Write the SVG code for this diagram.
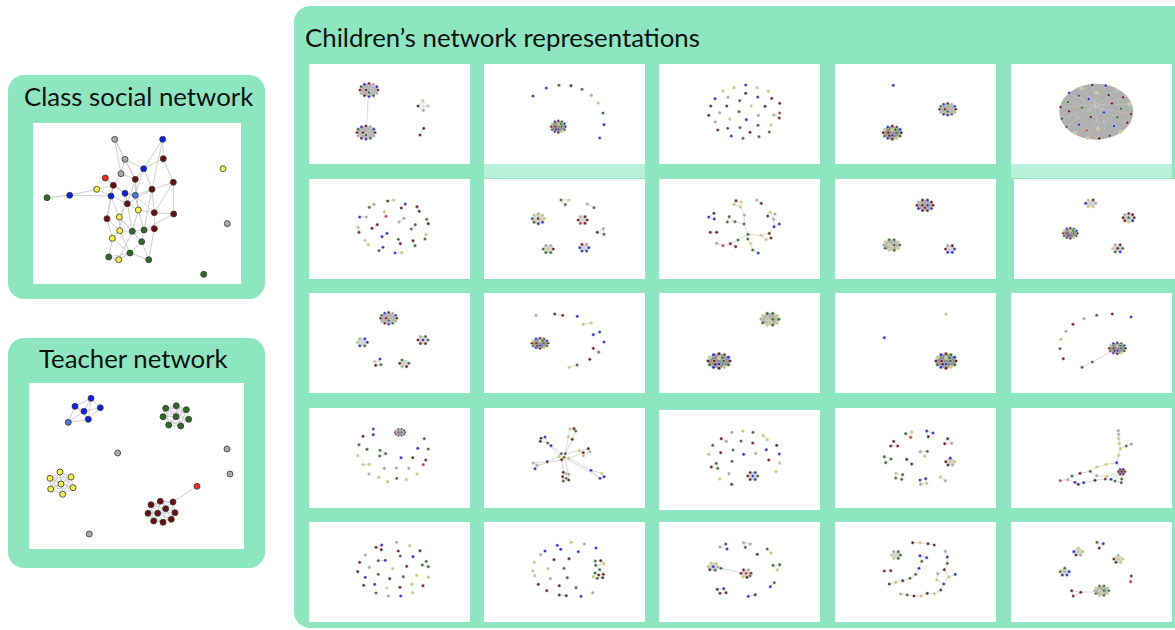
<svg xmlns="http://www.w3.org/2000/svg" xmlns:xlink="http://www.w3.org/1999/xlink" width="1175" height="630" viewBox="0 0 1175 630">
<style>
.bg{fill:#8ee6c1}
.w{fill:#fff}
.hl{fill:#b9f0d9}
.t{font-family:Lato,"Noto Sans",sans-serif;font-size:25.8px;fill:#111}
.c circle{r:1.6px;stroke:#e4e4e4;stroke-width:.5}
.r{fill:#6e2424}.b{fill:#2a36cc}.g{fill:#406c38}.y{fill:#cdc871}.s{fill:#a8a8a8}.e{fill:#cc3d3d}
.ed{stroke:#c8c8c8;stroke-width:.7;fill:none}
.hub{fill:#d2d2d2}
.big circle{r:3px;stroke:#3a3a3a;stroke-width:.8}
.big .r{fill:#6a0f0f}.big .b{fill:#0b1fe6}.big .g{fill:#2f6a27}.big .y{fill:#f5f04a}.big .s{fill:#aaaaaa}.big .e{fill:#ee2a1e}.big .lb{fill:#4b78d6}
.bed{stroke:#c8c8c8;stroke-width:.9;fill:none}
</style>
<defs>
<g id="cm" class="c">
<ellipse rx="9" ry="6.5" fill="#8c8c8c"/>
<circle class="r" cx="9" cy="0"/><circle class="g" cx="7.8" cy="3.3"/><circle class="y" cx="4.5" cy="5.6"/><circle class="r" cx="0" cy="6.5"/><circle class="b" cx="-4.5" cy="5.6"/><circle class="g" cx="-7.8" cy="3.3"/><circle class="r" cx="-9" cy="0"/><circle class="y" cx="-7.8" cy="-3.3"/><circle class="b" cx="-4.5" cy="-5.6"/><circle class="r" cx="0" cy="-6.5"/><circle class="g" cx="4.5" cy="-5.6"/><circle class="b" cx="7.8" cy="-3.3"/>
<circle class="g" cx="4" cy="0"/><circle class="r" cx="-4" cy="0"/><circle class="b" cx="0" cy="2.8"/><circle class="y" cx="0" cy="-2.8"/><circle class="r" cx="-3" cy="3"/><circle class="g" cx="3" cy="-3"/>
</g>
<g id="cmL" class="c">
<ellipse rx="9" ry="6.5" fill="#b4b4b4"/>
<circle class="r" cx="9" cy="0"/><circle class="s" cx="7.8" cy="3.3"/><circle class="g" cx="4.5" cy="5.6"/><circle class="b" cx="0" cy="6.5"/><circle class="r" cx="-4.5" cy="5.6"/><circle class="s" cx="-7.8" cy="3.3"/><circle class="r" cx="-9" cy="0"/><circle class="g" cx="-7.8" cy="-3.3"/><circle class="b" cx="-4.5" cy="-5.6"/><circle class="r" cx="0" cy="-6.5"/><circle class="s" cx="4.5" cy="-5.6"/><circle class="b" cx="7.8" cy="-3.3"/>
<circle class="s" cx="3" cy="0"/><circle class="r" cx="-3" cy="0"/><circle class="g" cx="0" cy="2.5"/>
</g>
<g id="crb" class="c">
<ellipse rx="8" ry="5.5" fill="#a8a8a8"/>
<circle class="r" cx="8" cy="0"/><circle class="b" cx="6.5" cy="3.2"/><circle class="r" cx="2.5" cy="5.2"/><circle class="r" cx="-2.5" cy="5.2"/><circle class="b" cx="-6.5" cy="3.2"/><circle class="r" cx="-8" cy="0"/><circle class="s" cx="-6.5" cy="-3.2"/><circle class="r" cx="-2.5" cy="-5.2"/><circle class="b" cx="2.5" cy="-5.2"/><circle class="r" cx="6.5" cy="-3.2"/>
<circle class="r" cx="-2.5" cy="0"/><circle class="b" cx="2.5" cy="0"/><circle class="r" cx="0" cy="2.5"/>
</g>
<g id="cgy" class="c">
<ellipse rx="8" ry="5.5" fill="#b0b0b0"/>
<circle class="g" cx="8" cy="0"/><circle class="y" cx="6.5" cy="3.2"/><circle class="g" cx="2.5" cy="5.2"/><circle class="y" cx="-2.5" cy="5.2"/><circle class="g" cx="-6.5" cy="3.2"/><circle class="s" cx="-8" cy="0"/><circle class="y" cx="-6.5" cy="-3.2"/><circle class="g" cx="-2.5" cy="-5.2"/><circle class="g" cx="2.5" cy="-5.2"/><circle class="y" cx="6.5" cy="-3.2"/>
<circle class="y" cx="-2.5" cy="0"/><circle class="g" cx="2.5" cy="0"/><circle class="y" cx="0" cy="2.5"/>
</g>
</defs>

<rect class="bg" x="294" y="6" width="910" height="622" rx="16"/>
<rect class="bg" x="8" y="75" width="257" height="224" rx="16"/>
<rect class="bg" x="8" y="338" width="257" height="230" rx="16"/>
<rect class="hl" x="484" y="164" width="161" height="14"/>
<rect class="hl" x="1011" y="164" width="161" height="14"/>

<text class="t" x="305" y="46.5">Children’s network representations</text>
<text class="t" x="24" y="106">Class social network</text>
<text class="t" x="39" y="368">Teacher network</text>

<g id="class-network" class="big">
<rect class="w" x="33" y="123" width="208" height="161"/>
<path class="bed" d="M114.7 139.3L125 159.3M114.7 139.3L121 173.7M114.7 139.3L135.3 179.3M162.7 139.3L143.7 168.7M162.7 139.3L163.3 158.7M162.7 139.3L152 189.3M125 159.3L143.7 168.7M125 159.3L135.3 179.3M125 159.3L121 173.7M163.3 158.7L173.3 182.3M163.3 158.7L143.7 168.7M143.7 168.7L135.3 179.3M143.7 168.7L152 189.3M121 173.7L113.3 185.3M121 173.7L135.3 179.3M105.3 178L113.3 185.3M105.3 178L125 193.3M135.3 179.3L135.3 195.3M135.3 179.3L127.3 203.7M173.3 182.3L173.7 214M173.3 182.3L152 189.3M96.7 189.3L69.7 195.3M69.7 195.3L47 197.7M96.7 189.3L111 196M69.7 195.3L111 196M113.3 185.3L125 193.3M113.3 185.3L111 196M152 189.3L154.3 212.7M152 189.3L127.3 203.7M125 193.3L135.3 195.3M125 193.3L127.3 203.7M135.3 195.3L138.3 210M135.3 195.3L152 189.3M111 196L107 218.7M111 196L119.3 217M127.3 203.7L138.3 210M127.3 203.7L119.3 217M138.3 210L154.3 212.7M138.3 210L144 230M154.3 212.7L173.7 214M154.3 212.7L154.3 228.7M173.7 214L144 230M119.3 217L119.7 230.7M119.3 217L132.3 231.3M107 218.7L119.7 230.7M107 218.7L112.3 238.3M119.7 230.7L132.3 231.3M119.7 230.7L112.3 238.3M132.3 231.3L144 230M132.3 231.3L141.7 241.7M144 230L154.3 228.7M144 230L141.7 241.7M154.3 228.7L148.7 259.7M112.3 238.3L108.7 257M112.3 238.3L130 253M141.7 241.7L130 253M141.7 241.7L148.7 259.7M108.7 257L130 253M108.7 257L118.7 259.7M130 253L118.7 259.7M130 253L148.7 259.7M119.7 230.7L130 253M132.3 231.3L118.7 259.7M125 193.3L119.7 230.7M135.3 179.3L138.3 210M113.3 185.3L107 218.7M111 196L127.3 203.7M119.3 217L141.7 241.7M138.3 210L132.3 231.3M152 189.3L144 230M135.3 195.3L154.3 212.7M127.3 203.7L132.3 231.3M96.7 189.3L113.3 185.3M173.3 182.3L154.3 212.7M143.7 168.7L135.3 195.3"/>
<circle class="s" cx="114.7" cy="139.3"/><circle class="b" cx="162.7" cy="139.3"/><circle class="s" cx="125" cy="159.3"/><circle class="r" cx="163.3" cy="158.7"/><circle class="b" cx="143.7" cy="168.7"/><circle class="y" cx="223" cy="168.7"/><circle class="s" cx="121" cy="173.7"/><circle class="e" cx="105.3" cy="178"/><circle class="r" cx="135.3" cy="179.3"/><circle class="r" cx="173.3" cy="182.3"/><circle class="r" cx="113.3" cy="185.3"/><circle class="y" cx="96.7" cy="189.3"/><circle class="r" cx="152" cy="189.3"/><circle class="b" cx="125" cy="193.3"/><circle class="lb" cx="135.3" cy="195.3"/><circle class="b" cx="111" cy="196"/><circle class="b" cx="69.7" cy="195.3"/><circle class="g" cx="47" cy="197.7"/><circle class="r" cx="127.3" cy="203.7"/><circle class="y" cx="138.3" cy="210"/><circle class="r" cx="154.3" cy="212.7"/><circle class="r" cx="173.7" cy="214"/><circle class="y" cx="119.3" cy="217"/><circle class="r" cx="107" cy="218.7"/><circle class="s" cx="227.3" cy="223.7"/><circle class="y" cx="119.7" cy="230.7"/><circle class="g" cx="132.3" cy="231.3"/><circle class="g" cx="144" cy="230"/><circle class="r" cx="154.3" cy="228.7"/><circle class="y" cx="112.3" cy="238.3"/><circle class="g" cx="141.7" cy="241.7"/><circle class="g" cx="108.7" cy="257"/><circle class="g" cx="130" cy="253"/><circle class="y" cx="118.7" cy="259.7"/><circle class="g" cx="148.7" cy="259.7"/><circle class="g" cx="203.7" cy="274.3"/>
</g>

<g id="teacher-network" class="big">
<rect class="w" x="29" y="383" width="215" height="166"/>
<path class="bed" d="M91 398.3L75 406.3M91 398.3L100.3 407.7M91 398.3L84 411.3M75 406.3L84 411.3M75 406.3L68.3 422.3M100.3 407.7L84 411.3M100.3 407.7L88.3 419.3M84 411.3L88.3 419.3M88.3 419.3L68.3 422.3M75 406.3L88.3 419.3M84 411.3L68.3 422.3M91 398.3L88.3 419.3"/>
<path class="bed" stroke-width=".6" d="M176.3 405.7L186.3 409.7L188.7 419.3L180.7 426L168.7 425L163 416.7L165.7 408.3ZM176.3 405.7L188.7 419.3L168.7 425L165.7 408.3L186.3 409.7L180.7 426L163 416.7ZM176 416.7L176.3 405.7M176 416.7L186.3 409.7M176 416.7L188.7 419.3M176 416.7L180.7 426M176 416.7L168.7 425M176 416.7L163 416.7M176 416.7L165.7 408.3M176.3 405.7L180.7 426M165.7 408.3L188.7 419.3M186.3 409.7L168.7 425M163 416.7L186.3 409.7"/>
<path class="bed" stroke-width=".6" d="M60 472L71 477L73 487.7L62.7 494.3L50.7 489L50 478.3ZM60 472L73 487.7L50.7 489ZM71 477L62.7 494.3L50 478.3ZM61 484L60 472M61 484L71 477M61 484L73 487.7M61 484L62.7 494.3M61 484L50.7 489M61 484L50 478.3M60 472L62.7 494.3M50 478.3L73 487.7M71 477L50.7 489"/>
<path class="bed" stroke-width=".6" d="M197 486.3L173 502M160.3 501.3L173 502L175 512.7L171.3 519.3L163 522.3L153.7 521L148 513.3L151 504.7ZM160.3 501.3L175 512.7L163 522.3L148 513.3ZM173 502L171.3 519.3L153.7 521L151 504.7ZM165.7 508.7L160.3 501.3M165.7 508.7L173 502M165.7 508.7L175 512.7M165.7 508.7L171.3 519.3M165.7 508.7L163 522.3M165.7 508.7L153.7 521M165.7 508.7L148 513.3M165.7 508.7L151 504.7M157.7 513.3L160.3 501.3M157.7 513.3L173 502M157.7 513.3L175 512.7M157.7 513.3L171.3 519.3M157.7 513.3L163 522.3M157.7 513.3L153.7 521M157.7 513.3L148 513.3M157.7 513.3L151 504.7"/>
<circle class="b" cx="91" cy="398.3"/><circle class="b" cx="75" cy="406.3"/><circle class="b" cx="100.3" cy="407.7"/><circle class="b" cx="84" cy="411.3"/><circle class="b" cx="88.3" cy="419.3"/><circle class="lb" cx="68.3" cy="422.3"/>
<circle class="g" cx="176.3" cy="405.7"/><circle class="g" cx="165.7" cy="408.3"/><circle class="g" cx="186.3" cy="409.7"/><circle class="g" cx="163" cy="416.7"/><circle class="g" cx="176" cy="416.7"/><circle class="g" cx="188.7" cy="419.3"/><circle class="g" cx="168.7" cy="425"/><circle class="g" cx="180.7" cy="426"/>
<circle class="s" cx="117.7" cy="453"/><circle class="s" cx="227" cy="449"/><circle class="s" cx="230" cy="474"/><circle class="s" cx="89.3" cy="534"/>
<circle class="y" cx="60" cy="472"/><circle class="y" cx="50" cy="478.3"/><circle class="y" cx="71" cy="477"/><circle class="y" cx="61" cy="484"/><circle class="y" cx="50.7" cy="489"/><circle class="y" cx="73" cy="487.7"/><circle class="y" cx="62.7" cy="494.3"/>
<circle class="e" cx="197" cy="486.3"/>
<circle class="r" cx="160.3" cy="501.3"/><circle class="r" cx="151" cy="504.7"/><circle class="r" cx="173" cy="502"/><circle class="r" cx="165.7" cy="508.7"/><circle class="r" cx="148" cy="513.3"/><circle class="r" cx="157.7" cy="513.3"/><circle class="r" cx="175" cy="512.7"/><circle class="r" cx="153.7" cy="521"/><circle class="r" cx="163" cy="522.3"/><circle class="r" cx="171.3" cy="519.3"/>
</g>

<g id="p11" class="c" transform="translate(309,64)">
<rect class="w" width="161" height="100"/>
<path class="ed" d="M59.3 33L57.7 62M113.7 36.7L109 42L114.3 46.3L119 42ZM113.7 36.7L114.3 46.3M109 42L119 42M114.7 64.3L111 71"/>
<use href="#cmL" x="60" y="26"/>
<use href="#cmL" x="57" y="68.5"/>
<circle class="y" cx="113.7" cy="36.7"/><circle class="r" cx="109" cy="42"/><circle class="y" cx="119" cy="42"/><circle class="s" cx="114.3" cy="46.3"/>
<circle class="r" cx="114.7" cy="64.3"/><circle class="r" cx="111" cy="71"/>
</g>

<g id="p12" class="c" transform="translate(484,64)">
<rect class="w" width="161" height="100"/>
<circle class="b" cx="49" cy="32"/><circle class="b" cx="62.3" cy="24"/><circle class="g" cx="75" cy="21.3"/><circle class="r" cx="87" cy="21.7"/><circle class="g" cx="98" cy="25.3"/><circle class="s" cx="107.3" cy="31.3"/><circle class="y" cx="114.3" cy="39"/><circle class="g" cx="119" cy="49"/><circle class="b" cx="120" cy="60.7"/><circle class="b" cx="115.7" cy="74"/>
<use href="#cm" transform="translate(74.3,62.7) scale(.8,.9)"/>
</g>

<g id="p13" class="c" transform="translate(659,64)">
<rect class="w" width="161" height="100"/>
<path class="ed" d="M114.7 51L120.7 49M114.7 51L120.3 54"/>
<circle class="b" cx="86.7" cy="21"/><circle class="y" cx="75" cy="23.7"/><circle class="y" cx="98.3" cy="23.7"/><circle class="y" cx="64" cy="27"/><circle class="y" cx="109.3" cy="27.3"/><circle class="r" cx="86.7" cy="29.3"/><circle class="b" cx="56" cy="34.7"/><circle class="s" cx="69" cy="33.3"/><circle class="b" cx="98.7" cy="33"/><circle class="r" cx="112.7" cy="34.3"/><circle class="g" cx="80.7" cy="36.7"/><circle class="r" cx="120.7" cy="39.3"/><circle class="r" cx="51.7" cy="42"/><circle class="r" cx="67.7" cy="42"/><circle class="y" cx="92.3" cy="42"/><circle class="r" cx="106" cy="42.3"/><circle class="s" cx="60.7" cy="48.7"/><circle class="g" cx="80" cy="47.7"/><circle class="r" cx="49.7" cy="51.3"/><circle class="y" cx="70.7" cy="55"/><circle class="b" cx="87.3" cy="55.7"/><circle class="s" cx="99.3" cy="51.3"/><circle class="s" cx="114.7" cy="51"/><circle class="e" cx="120.7" cy="49"/><circle class="r" cx="120.3" cy="54"/><circle class="s" cx="56.3" cy="58"/><circle class="y" cx="112" cy="61"/><circle class="g" cx="68.7" cy="64.3"/><circle class="g" cx="81" cy="63.7"/><circle class="g" cx="99" cy="61.3"/><circle class="r" cx="58.7" cy="66"/><circle class="r" cx="91" cy="68.3"/><circle class="g" cx="110.3" cy="68"/><circle class="b" cx="72.3" cy="72"/><circle class="g" cx="84" cy="74.3"/><circle class="g" cx="100" cy="72.7"/>
</g>

<g id="p14" class="c" transform="translate(835,64)">
<rect class="w" width="161" height="100"/>
<circle class="b" cx="58.3" cy="21.3"/>
<use href="#cmL" transform="translate(112.7,45.3) scale(.9)"/>
<use href="#cm" transform="translate(57.3,68.7)"/>
</g>

<g id="p15" class="c" transform="translate(1011,64)">
<rect class="w" width="161" height="100"/>
<ellipse cx="85.3" cy="47.7" rx="37" ry="28" fill="#b0b0b0"/>
<path d="M81.3 21L88.3 74.3M94.7 21.7L64.3 69.3M70.7 24L109.7 68M105 26.7L55.7 62.7M58.3 29L116.3 58.7M112 33.3L51 54.7M57 38L120 50M118.7 40L49.7 43M97.7 31L76.7 74.3M67.7 31.7L98.7 71.7" stroke="#c6c6c6" stroke-width=".5" fill="none"/>
<circle class="r" cx="81.3" cy="21"/><circle class="b" cx="94.7" cy="21.7"/><circle class="y" cx="70.7" cy="24"/><circle class="s" cx="105" cy="26.7"/><circle class="b" cx="58.3" cy="29"/><circle class="y" cx="85.7" cy="28.7"/><circle class="g" cx="67.7" cy="31.7"/><circle class="r" cx="97.7" cy="31"/><circle class="r" cx="112" cy="33.3"/><circle class="b" cx="77.7" cy="35"/><circle class="g" cx="57" cy="38"/><circle class="r" cx="101" cy="39.3"/><circle class="s" cx="86.3" cy="41"/><circle class="y" cx="118.7" cy="40"/><circle class="r" cx="49.7" cy="43"/><circle class="g" cx="71" cy="43.7"/><circle class="g" cx="110" cy="44.7"/><circle class="r" cx="58" cy="47.3"/><circle class="b" cx="93" cy="48.3"/><circle class="r" cx="120" cy="50"/><circle class="s" cx="66.7" cy="53.3"/><circle class="r" cx="79.7" cy="53"/><circle class="g" cx="106.3" cy="53.3"/><circle class="g" cx="51" cy="54.7"/><circle class="s" cx="93.7" cy="57.7"/><circle class="r" cx="116.3" cy="58.7"/><circle class="b" cx="68" cy="60.7"/><circle class="g" cx="55.7" cy="62.7"/><circle class="b" cx="103" cy="62"/><circle class="e" cx="75.7" cy="66.3"/><circle class="y" cx="87" cy="65"/><circle class="y" cx="109.7" cy="68"/><circle class="y" cx="64.3" cy="69.3"/><circle class="g" cx="98.7" cy="71.7"/><circle class="y" cx="76.7" cy="74.3"/><circle class="r" cx="88.3" cy="74.3"/>
</g>

<g id="p21" class="c" transform="translate(309,179)">
<rect class="w" width="161" height="100"/>
<path class="ed" d="M60.3 28.3L65 25.3M78.7 22L84.7 21M96.3 25L92.3 29M50.7 38L57.3 38M75.3 32.7L77 37.3M108 27.7L110.3 32.3M90 43L95 39.3M117.7 40.3L119.3 44.7M49 48.3L50 53.3M63 49.3L68.3 45.7M102.3 50L106.3 45.7M73 57.7L78 54.3M56 61.3L59.3 65.7M89.3 60.3L91.3 64.7M117 55.3L116 60M104 61.7L106 66.7M70 71.7L74 68.3M86 74L92.7 73.7"/>
<circle class="g" cx="60.3" cy="28.3"/><circle class="s" cx="65" cy="25.3"/><circle class="r" cx="78.7" cy="22"/><circle class="y" cx="84.7" cy="21"/><circle class="b" cx="96.3" cy="25"/><circle class="r" cx="92.3" cy="29"/><circle class="b" cx="50.7" cy="38"/><circle class="s" cx="57.3" cy="38"/><circle class="y" cx="75.3" cy="32.7"/><circle class="e" cx="77" cy="37.3"/><circle class="r" cx="108" cy="27.7"/><circle class="r" cx="110.3" cy="32.3"/><circle class="s" cx="90" cy="43"/><circle class="s" cx="95" cy="39.3"/><circle class="g" cx="117.7" cy="40.3"/><circle class="r" cx="119.3" cy="44.7"/><circle class="y" cx="49" cy="48.3"/><circle class="r" cx="50" cy="53.3"/><circle class="r" cx="63" cy="49.3"/><circle class="r" cx="68.3" cy="45.7"/><circle class="g" cx="102.3" cy="50"/><circle class="g" cx="106.3" cy="45.7"/><circle class="b" cx="73" cy="57.7"/><circle class="b" cx="78" cy="54.3"/><circle class="y" cx="56" cy="61.3"/><circle class="y" cx="59.3" cy="65.7"/><circle class="g" cx="89.3" cy="60.3"/><circle class="r" cx="91.3" cy="64.7"/><circle class="y" cx="117" cy="55.3"/><circle class="g" cx="116" cy="60"/><circle class="r" cx="104" cy="61.7"/><circle class="g" cx="106" cy="66.7"/><circle class="g" cx="70" cy="71.7"/><circle class="b" cx="74" cy="68.3"/><circle class="b" cx="86" cy="74"/><circle class="y" cx="92.7" cy="73.7"/>
</g>

<g id="p22" class="c" transform="translate(484,179)">
<rect class="w" width="161" height="100"/>
<path class="ed" d="M77 21L84.7 21L81.3 25.7ZM103.3 25L110 28.7M113.3 53.3L119.3 49.7L120 55.3Z"/>
<g transform="translate(54.3,39.7)"><ellipse class="hub" rx="6" ry="5"/><circle class="y" cx="6" cy="0"/><circle class="b" cx="4.2" cy="3.5"/><circle class="b" cx="0" cy="5"/><circle class="g" cx="-4.2" cy="3.5"/><circle class="g" cx="-6" cy="0"/><circle class="y" cx="-4.2" cy="-3.5"/><circle class="s" cx="0" cy="-5"/><circle class="y" cx="4.2" cy="-3.5"/><circle class="r" cx="0" cy="0"/><circle class="y" cx="2" cy="1.5"/></g>
<g transform="translate(98.7,41)"><ellipse class="hub" rx="4.5" ry="3.5"/><circle class="r" cx="4.5" cy="0"/><circle class="r" cx="2.3" cy="3.3"/><circle class="e" cx="-2.3" cy="3.3"/><circle class="r" cx="-4.5" cy="0"/><circle class="s" cx="-2.3" cy="-3.3"/><circle class="r" cx="2.3" cy="-3.3"/></g>
<g transform="translate(64.3,70)"><ellipse class="hub" rx="5" ry="4"/><circle class="r" cx="5" cy="0"/><circle class="g" cx="2.5" cy="3.5"/><circle class="g" cx="-2.5" cy="3.5"/><circle class="g" cx="-5" cy="0"/><circle class="s" cx="-2.5" cy="-3.5"/><circle class="s" cx="2.5" cy="-3.5"/><circle class="y" cx="0" cy="0"/></g>
<g transform="translate(100.3,68.7)"><ellipse class="hub" rx="4.5" ry="3.5"/><circle class="b" cx="4.5" cy="0"/><circle class="b" cx="2.3" cy="3.3"/><circle class="b" cx="-2.3" cy="3.3"/><circle class="b" cx="-4.5" cy="0"/><circle class="r" cx="-2.3" cy="-3.3"/><circle class="s" cx="2.3" cy="-3.3"/></g>
<circle class="g" cx="77" cy="21"/><circle class="y" cx="84.7" cy="21"/><circle class="g" cx="81.3" cy="25.7"/><circle class="s" cx="103.3" cy="25"/><circle class="g" cx="110" cy="28.7"/><circle class="r" cx="113.3" cy="53.3"/><circle class="s" cx="119.3" cy="49.7"/><circle class="g" cx="120" cy="55.3"/>
</g>

<g id="p23" class="c" transform="translate(659,179)">
<rect class="w" width="161" height="100"/>
<path class="ed" d="M89 55.3L85 45L85.3 36L81.3 28M89 55.3L79 61L71.3 64.7L64 66.7L57.7 64.3M71.3 64.7L76.7 67.7M89 55.3L102 56.3L110.3 54.3L115 47.7L114.7 40.3L111 33.3L116 35L114.7 40.3L108.7 37M115 47.7L120.3 45M102 56.3L107 60.7L112 59L110.3 54.3M89 55.3L88.7 60L91.7 64.3L93.7 71L99.3 74M70.3 37.7L68.3 43L76 42.7ZM76 42.7L85 45M77 21.7L82.3 23L81.3 28L75 25.3ZM77 21.7L81.3 28M97.7 21L102.3 24.3M55 34.3L49.7 38L55.3 40ZM51.3 53.3L57.7 53.3"/>
<circle class="r" cx="77" cy="21.7"/><circle class="y" cx="82.3" cy="23"/><circle class="y" cx="75" cy="25.3"/><circle class="y" cx="81.3" cy="28"/><circle class="s" cx="97.7" cy="21"/><circle class="r" cx="102.3" cy="24.3"/><circle class="r" cx="55" cy="34.3"/><circle class="b" cx="49.7" cy="38"/><circle class="b" cx="55.3" cy="40"/><circle class="s" cx="85.3" cy="36"/><circle class="g" cx="70.3" cy="37.7"/><circle class="g" cx="68.3" cy="43"/><circle class="g" cx="76" cy="42.7"/><circle class="g" cx="85" cy="45"/><circle class="y" cx="111" cy="33.3"/><circle class="s" cx="116" cy="35"/><circle class="r" cx="108.7" cy="37"/><circle class="s" cx="114.7" cy="40.3"/><circle class="b" cx="120.3" cy="45"/><circle class="b" cx="115" cy="47.7"/><circle class="r" cx="51.3" cy="53.3"/><circle class="r" cx="57.7" cy="53.3"/><circle class="g" cx="89" cy="55.3"/><circle class="y" cx="102" cy="56.3"/><circle class="r" cx="110.3" cy="54.3"/><circle class="y" cx="107" cy="60.7"/><circle class="r" cx="112" cy="59"/><circle class="g" cx="79" cy="61"/><circle class="s" cx="57.7" cy="64.3"/><circle class="e" cx="64" cy="66.7"/><circle class="r" cx="71.3" cy="64.7"/><circle class="r" cx="76.7" cy="67.7"/><circle class="g" cx="88.7" cy="60"/><circle class="y" cx="91.7" cy="64.3"/><circle class="g" cx="93.7" cy="71"/><circle class="b" cx="99.3" cy="74"/>
</g>

<g id="p24" class="c" transform="translate(835,179)">
<rect class="w" width="161" height="100"/>
<use href="#crb" x="90" y="26.3"/>
<use href="#cgy" x="56.7" y="66"/>
<g transform="translate(115,70)"><ellipse class="hub" rx="4.5" ry="3.5"/><circle class="b" cx="4.5" cy="0"/><circle class="b" cx="2.3" cy="3.3"/><circle class="b" cx="-2.3" cy="3.3"/><circle class="r" cx="-4.5" cy="0"/><circle class="s" cx="-2.3" cy="-3.3"/><circle class="r" cx="2.3" cy="-3.3"/></g>
</g>

<g id="p25" class="c" transform="translate(1014,179)">
<rect class="w" width="161" height="100"/>
<g transform="translate(76.7,24.3)"><ellipse class="hub" rx="5" ry="3.5"/><circle class="s" cx="5" cy="0"/><circle class="y" cx="2.5" cy="3.3"/><circle class="y" cx="-2.5" cy="3.3"/><circle class="b" cx="-5" cy="0"/><circle class="y" cx="-2.5" cy="-3.3"/><circle class="r" cx="2.5" cy="-3.3"/></g>
<g transform="translate(114.7,38.7)"><ellipse class="hub" rx="5.5" ry="4.2"/><circle class="r" cx="5.5" cy="0"/><circle class="b" cx="3.9" cy="3"/><circle class="y" cx="0" cy="4.2"/><circle class="r" cx="-3.9" cy="3"/><circle class="r" cx="-5.5" cy="0"/><circle class="s" cx="-3.9" cy="-3"/><circle class="r" cx="0" cy="-4.2"/><circle class="r" cx="3.9" cy="-3"/><circle class="g" cx="0" cy="0"/></g>
<use href="#cm" transform="translate(56.3,54.3) scale(.8)"/>
<g transform="translate(103.7,69.3)"><ellipse class="hub" rx="5" ry="4"/><circle class="g" cx="5" cy="0"/><circle class="b" cx="2.5" cy="3.5"/><circle class="g" cx="-2.5" cy="3.5"/><circle class="y" cx="-5" cy="0"/><circle class="s" cx="-2.5" cy="-3.5"/><circle class="r" cx="2.5" cy="-3.5"/><circle class="r" cx="0" cy="0"/></g>
</g>

<g id="p31" class="c" transform="translate(309,293)">
<rect class="w" width="161" height="100"/>
<use href="#cmL" transform="translate(79.7,25.3) scale(.9)"/>
<g transform="translate(53.3,49.3)"><ellipse class="hub" rx="5" ry="4"/><circle class="b" cx="5" cy="0"/><circle class="g" cx="2.5" cy="3.5"/><circle class="b" cx="-2.5" cy="3.5"/><circle class="y" cx="-5" cy="0"/><circle class="s" cx="-2.5" cy="-3.5"/><circle class="b" cx="2.5" cy="-3.5"/></g>
<g transform="translate(114,47)"><ellipse class="hub" rx="5" ry="4"/><circle class="g" cx="5" cy="0"/><circle class="r" cx="2.5" cy="3.5"/><circle class="r" cx="-2.5" cy="3.5"/><circle class="r" cx="-5" cy="0"/><circle class="s" cx="-2.5" cy="-3.5"/><circle class="g" cx="2.5" cy="-3.5"/><circle class="b" cx="0" cy="0"/></g>
<path class="ed" d="M66.7 69L70 67.5L71.5 71.7L67.5 72Z"/>
<circle class="y" cx="65.5" cy="68.5"/><circle class="b" cx="71" cy="66"/><circle class="g" cx="72" cy="71.7"/><circle class="r" cx="66.7" cy="72.3"/>
<g transform="translate(95.3,70.3)"><ellipse class="hub" rx="4.5" ry="3.5"/><circle class="g" cx="4.5" cy="0"/><circle class="r" cx="2.3" cy="3.3"/><circle class="s" cx="-2.3" cy="3.3"/><circle class="r" cx="-4.5" cy="0"/><circle class="g" cx="-2.3" cy="-3.3"/></g>
</g>

<g id="p32" class="c" transform="translate(484,293)">
<rect class="w" width="161" height="100"/>
<path class="ed" d="M70.7 21L78.7 22.3M99.3 31.3L107.3 30M109.3 41.7L115.7 39M109.3 55.3L114.7 59M85.3 74.3L93 72"/>
<use href="#cm" transform="translate(56,50.3) scale(.9,.8)"/>
<circle class="s" cx="52" cy="22.3"/><circle class="r" cx="70.7" cy="21"/><circle class="r" cx="78.7" cy="22.3"/><circle class="b" cx="93.3" cy="23.3"/><circle class="y" cx="99.3" cy="31.3"/><circle class="y" cx="107.3" cy="30"/><circle class="b" cx="109.3" cy="41.7"/><circle class="b" cx="115.7" cy="39"/><circle class="b" cx="120" cy="49"/><circle class="r" cx="109.3" cy="55.3"/><circle class="e" cx="114.7" cy="59"/><circle class="r" cx="105.7" cy="66.3"/><circle class="y" cx="85.3" cy="74.3"/><circle class="g" cx="93" cy="72"/>
</g>

<g id="p33" class="c" transform="translate(659,293)">
<rect class="w" width="161" height="100"/>
<use href="#cgy" transform="translate(111,26.3) scale(1.1)"/>
<use href="#cm" transform="translate(60,68) scale(1.2,1.1)"/>
</g>

<g id="p34" class="c" transform="translate(835,293)">
<rect class="w" width="161" height="100"/>
<circle class="y" cx="111" cy="21"/><circle class="b" cx="49.3" cy="44.7"/>
<use href="#cm" transform="translate(111,68) scale(1.1)"/>
</g>

<g id="p35" class="c" transform="translate(1011,293)">
<rect class="w" width="161" height="100"/>
<path class="ed" d="M106.3 55.3L81.3 69L71 74.3"/>
<circle class="b" cx="120" cy="24"/><circle class="r" cx="101.3" cy="21"/><circle class="g" cx="85.7" cy="22.3"/><circle class="s" cx="73" cy="25.7"/><circle class="r" cx="62" cy="31.3"/><circle class="s" cx="55" cy="38.3"/><circle class="y" cx="49.7" cy="46.3"/><circle class="g" cx="49" cy="55.7"/><circle class="r" cx="52.3" cy="65.7"/>
<use href="#cm" transform="translate(106.3,55.3) scale(.9,.85)"/>
<circle class="g" cx="81.3" cy="69"/><circle class="g" cx="71" cy="74.3"/>
</g>

<g id="p41" class="c" transform="translate(309,408)">
<rect class="w" width="161" height="100"/>
<path class="ed" d="M71 42.3L76.7 45.7L70.7 48ZM54 56.7L60.3 56.3"/>
<use href="#crb" transform="translate(91,24.3) scale(.65)"/>
<circle class="b" cx="64.3" cy="21"/><circle class="b" cx="64.3" cy="26.7"/><circle class="r" cx="54" cy="28.3"/><circle class="g" cx="115.3" cy="30.7"/><circle class="g" cx="50" cy="36.7"/><circle class="g" cx="58" cy="41.3"/><circle class="g" cx="71" cy="42.3"/><circle class="g" cx="76.7" cy="45.7"/><circle class="g" cx="70.7" cy="48"/><circle class="b" cx="108.7" cy="40.3"/><circle class="g" cx="119.3" cy="41"/><circle class="y" cx="48.7" cy="47.7"/><circle class="b" cx="92" cy="49.7"/><circle class="r" cx="103.7" cy="49.7"/><circle class="r" cx="116.7" cy="52"/><circle class="e" cx="114.3" cy="56.7"/><circle class="y" cx="54" cy="56.7"/><circle class="y" cx="60.3" cy="56.3"/><circle class="s" cx="75.3" cy="60.3"/><circle class="s" cx="87.3" cy="60"/><circle class="s" cx="99.7" cy="60.3"/><circle class="y" cx="108" cy="66"/><circle class="s" cx="60" cy="66"/><circle class="y" cx="69.7" cy="69.3"/><circle class="g" cx="87.7" cy="70.3"/><circle class="y" cx="97.3" cy="71.7"/><circle class="y" cx="78.7" cy="73.7"/>
</g>

<g id="p42" class="c" transform="translate(484,408)">
<rect class="w" width="161" height="100"/>
<path class="ed" d="M81.3 45.7L84.3 28.7M80 49.3L88.3 31.3M77.3 45.7L67 37.7M75.3 48.3L63.7 35M84.7 50.3L99.3 44.7M81.3 45.7L95.3 42.7M75.3 48.3L63.3 53.7M77.7 51.7L53 57.3M77.7 51.7L79.3 64.3M80 49.3L84.7 66.3M84.7 50.3L107 62.3M80 49.3L116 70.3M86 21L90 20.7L91.7 23L88.3 31.3L84.3 28.7ZM57 30.3L61 29L63.7 35L67 37.7M56.3 33.3L63.7 35M95.3 42.7L104.3 40.7L106 44L99.3 47.7L99.3 44.7ZM63.3 53.7L49.3 55L53 57.3L51 60.7M79.3 64.3L82.3 65.7L84.7 66.3L84.7 72L79.3 73L78.7 68.7ZM107 62.3L117.7 65.3L120 68.7L116 70.3Z"/>
<circle class="g" cx="77.3" cy="45.7"/><circle class="g" cx="81.3" cy="45.7"/><circle class="y" cx="75.3" cy="48.3"/><circle class="g" cx="80" cy="49.3"/><circle class="y" cx="84.7" cy="50.3"/><circle class="r" cx="77.7" cy="51.7"/>
<circle class="y" cx="86" cy="21"/><circle class="r" cx="90" cy="20.7"/><circle class="g" cx="91.7" cy="23"/><circle class="y" cx="84.3" cy="28.7"/><circle class="r" cx="88.3" cy="31.3"/>
<circle class="r" cx="57" cy="30.3"/><circle class="b" cx="61" cy="29"/><circle class="r" cx="56.3" cy="33.3"/><circle class="g" cx="63.7" cy="35"/><circle class="b" cx="67" cy="37.7"/>
<circle class="y" cx="95.3" cy="42.7"/><circle class="r" cx="104.3" cy="40.7"/><circle class="r" cx="99.3" cy="44.7"/><circle class="s" cx="106" cy="44"/><circle class="y" cx="99.3" cy="47.7"/>
<circle class="r" cx="63.3" cy="53.7"/><circle class="s" cx="49.3" cy="55"/><circle class="s" cx="53" cy="57.3"/><circle class="b" cx="51" cy="60.7"/>
<circle class="r" cx="79.3" cy="64.3"/><circle class="s" cx="82.3" cy="65.7"/><circle class="r" cx="78.7" cy="68.7"/><circle class="s" cx="84.7" cy="66.3"/><circle class="g" cx="82.3" cy="70.3"/><circle class="g" cx="79.3" cy="73"/><circle class="r" cx="84.7" cy="72"/>
<circle class="b" cx="107" cy="62.3"/><circle class="y" cx="117.7" cy="65.3"/><circle class="b" cx="116" cy="70.3"/><circle class="b" cx="120" cy="68.7"/>
</g>

<g id="p43" class="c" transform="translate(659,410)">
<rect class="w" width="161" height="100"/>
<path class="ed" d="M62.3 28.7L67.3 31.3M104.3 25.7L108.3 29.7M57.3 53.3L52.3 57L58.7 58.3Z"/>
<circle class="s" cx="72.7" cy="22.3"/><circle class="y" cx="83.7" cy="21"/><circle class="g" cx="94" cy="22.3"/><circle class="y" cx="104.3" cy="25.7"/><circle class="y" cx="108.3" cy="29.7"/><circle class="r" cx="62.3" cy="28.7"/><circle class="s" cx="67.3" cy="31.3"/><circle class="g" cx="82" cy="31"/><circle class="r" cx="93.7" cy="33"/><circle class="g" cx="53.7" cy="35.3"/><circle class="r" cx="117.7" cy="35.3"/><circle class="g" cx="74" cy="40"/><circle class="b" cx="107.3" cy="39.7"/><circle class="y" cx="49.7" cy="44.3"/><circle class="r" cx="61.7" cy="42.7"/><circle class="b" cx="84.7" cy="44.3"/><circle class="s" cx="96.7" cy="43.3"/><circle class="b" cx="120.3" cy="44"/><circle class="r" cx="109.7" cy="50"/><circle class="g" cx="73" cy="51.3"/><circle class="g" cx="57.3" cy="53.3"/><circle class="r" cx="52.3" cy="57"/><circle class="g" cx="58.7" cy="58.3"/><circle class="y" cx="120.7" cy="53"/><circle class="y" cx="117" cy="61.7"/><circle class="s" cx="70" cy="63.7"/><circle class="y" cx="60.7" cy="69"/><circle class="r" cx="72.7" cy="74.3"/>
<g transform="translate(93.7,66)"><ellipse class="hub" rx="5" ry="4"/><circle class="g" cx="5" cy="0"/><circle class="b" cx="2.5" cy="3.5"/><circle class="r" cx="-2.5" cy="3.5"/><circle class="r" cx="-5" cy="0"/><circle class="r" cx="-2.5" cy="-3.5"/><circle class="b" cx="2.5" cy="-3.5"/><circle class="b" cx="0" cy="0"/></g>
</g>

<g id="p44" class="c" transform="translate(835,408)">
<rect class="w" width="161" height="100"/>
<path class="ed" d="M70.7 25.7L76.7 24L75.7 29.3ZM91.7 23L98 25L93.3 28.7ZM112.7 30.7L109.7 35.7L116.7 35.3ZM58.7 33.3L55.7 38L62.7 38ZM85.3 43.7L92.3 43.3L89.7 48.3ZM49.3 48.7L56 51L50.7 54.7ZM71.7 51.3L76.7 56M61 65.3L67.7 66.7L66.7 71.3L60.7 70ZM85 72L90.7 70.7L91.7 75.3L85.7 76.3ZM105.3 69L110.3 72.7"/>
<circle class="g" cx="70.7" cy="25.7"/><circle class="y" cx="76.7" cy="24"/><circle class="e" cx="75.7" cy="29.3"/><circle class="b" cx="91.7" cy="23"/><circle class="b" cx="98" cy="25"/><circle class="r" cx="93.3" cy="28.7"/><circle class="r" cx="112.7" cy="30.7"/><circle class="r" cx="109.7" cy="35.7"/><circle class="s" cx="116.7" cy="35.3"/><circle class="r" cx="58.7" cy="33.3"/><circle class="r" cx="55.7" cy="38"/><circle class="r" cx="62.7" cy="38"/><circle class="s" cx="85.3" cy="43.7"/><circle class="g" cx="92.3" cy="43.3"/><circle class="y" cx="89.7" cy="48.3"/><circle class="g" cx="49.3" cy="48.7"/><circle class="g" cx="56" cy="51"/><circle class="g" cx="50.7" cy="54.7"/><circle class="r" cx="71.7" cy="51.3"/><circle class="r" cx="76.7" cy="56"/>
<g transform="translate(115.3,53.7)"><ellipse class="hub" rx="4.5" ry="3.5"/><circle class="b" cx="0" cy="-3.5"/><circle class="y" cx="4.5" cy="0"/><circle class="s" cx="2.3" cy="3.3"/><circle class="r" cx="-2.3" cy="3.3"/><circle class="r" cx="-4.5" cy="0"/><circle class="y" cx="0" cy="0"/></g>
<circle class="y" cx="61" cy="65.3"/><circle class="g" cx="67.7" cy="66.7"/><circle class="g" cx="60.7" cy="70"/><circle class="g" cx="66.7" cy="71.3"/><circle class="b" cx="85" cy="72"/><circle class="b" cx="90.7" cy="70.7"/><circle class="s" cx="85.7" cy="76.3"/><circle class="y" cx="91.7" cy="75.3"/><circle class="y" cx="105.3" cy="69"/><circle class="s" cx="110.3" cy="72.7"/>
</g>

<g id="p45" class="c" transform="translate(1011,408)">
<rect class="w" width="161" height="100"/>
<path class="ed" d="M107.3 22.7L107.7 26.3L107.7 30.7L108.3 35.3L109.3 40.7L107.7 47.3L105.7 54.7L110.7 63.7M109.3 40.7L115.3 38L120.3 36M105.7 54.7L95 56.3L86 59L79.3 63.3L69 65.3L61 68L56.7 71.7L49.3 72.7M56.7 71.7L64 74.3L67.3 76.3L72.7 74.7L84 72.3L94.3 71L100 71.3L110.7 63.7M110.7 63.7L95.7 68.7L85.7 67.7L79.3 63.3M110.7 63.7L104 73L110.3 74.7L110.7 71Z"/>
<circle class="s" cx="107.3" cy="22.7"/><circle class="s" cx="107.7" cy="26.3"/><circle class="y" cx="107.7" cy="30.7"/><circle class="y" cx="108.3" cy="35.3"/><circle class="y" cx="109.3" cy="40.7"/><circle class="y" cx="107.7" cy="47.3"/><circle class="g" cx="115.3" cy="38"/><circle class="s" cx="120.3" cy="36"/><circle class="b" cx="105.7" cy="54.7"/><circle class="y" cx="95" cy="56.3"/><circle class="y" cx="86" cy="59"/><circle class="g" cx="79.3" cy="63.3"/><circle class="r" cx="69" cy="65.3"/><circle class="g" cx="61" cy="68"/><circle class="s" cx="56.7" cy="71.7"/><circle class="e" cx="49.3" cy="72.7"/><circle class="b" cx="64" cy="74.3"/><circle class="r" cx="67.3" cy="76.3"/><circle class="b" cx="72.7" cy="74.7"/><circle class="r" cx="84" cy="72.3"/><circle class="r" cx="94.3" cy="71"/><circle class="b" cx="100" cy="71.3"/><circle class="y" cx="95.7" cy="68.7"/><circle class="s" cx="85.7" cy="67.7"/><circle class="g" cx="104" cy="73"/><circle class="g" cx="110.3" cy="74.7"/><circle class="g" cx="110.7" cy="71"/>
<g transform="translate(110.7,63.7)"><ellipse rx="3.5" ry="2.8" fill="#6a3a3a"/><circle class="r" cx="3" cy="0"/><circle class="b" cx="1.5" cy="2.2"/><circle class="r" cx="-1.5" cy="2.2"/><circle class="r" cx="-3" cy="0"/><circle class="b" cx="-1.5" cy="-2.2"/><circle class="r" cx="1.5" cy="-2.2"/><circle class="r" cx="0" cy="0"/></g>
</g>

<g id="p51" class="c" transform="translate(309,522)">
<rect class="w" width="161" height="100"/>
<path class="ed" d="M72.7 23L67 25.3L72.3 27.7ZM69.3 38.7L76.3 38.3M117.3 39.3L113.3 43L119.3 44.7Z"/>
<circle class="b" cx="72.7" cy="23"/><circle class="r" cx="67" cy="25.3"/><circle class="r" cx="72.3" cy="27.7"/><circle class="s" cx="87.7" cy="20.3"/><circle class="y" cx="100.7" cy="23.7"/><circle class="r" cx="111" cy="28.7"/><circle class="r" cx="89.3" cy="29"/><circle class="s" cx="56.3" cy="33"/><circle class="g" cx="91.3" cy="34"/><circle class="b" cx="104" cy="34.7"/><circle class="r" cx="50.7" cy="40.3"/><circle class="g" cx="69.3" cy="38.7"/><circle class="b" cx="76.3" cy="38.3"/><circle class="g" cx="117.3" cy="39.3"/><circle class="g" cx="113.3" cy="43"/><circle class="g" cx="119.3" cy="44.7"/><circle class="s" cx="60.3" cy="45.3"/><circle class="r" cx="97.7" cy="44.3"/><circle class="y" cx="83.7" cy="46.7"/><circle class="r" cx="48.7" cy="49.7"/><circle class="g" cx="69.3" cy="52.3"/><circle class="y" cx="107.7" cy="53.3"/><circle class="b" cx="56.3" cy="55.3"/><circle class="r" cx="80.7" cy="56.7"/><circle class="g" cx="94.3" cy="54.7"/><circle class="y" cx="119.3" cy="55.3"/><circle class="r" cx="54.7" cy="63.3"/><circle class="b" cx="65.7" cy="62.3"/><circle class="y" cx="78" cy="66"/><circle class="r" cx="91" cy="65.3"/><circle class="y" cx="103" cy="62.3"/><circle class="r" cx="114" cy="63.7"/><circle class="g" cx="67" cy="71"/><circle class="s" cx="79.3" cy="74"/><circle class="b" cx="91.7" cy="74"/><circle class="y" cx="103.7" cy="70.7"/>
</g>

<g id="p52" class="c" transform="translate(484,522)">
<rect class="w" width="161" height="100"/>
<path class="ed" d="M111.3 39L116.7 38.7L119.7 41.7L111.7 43.3ZM111.7 43.3L115.7 47.7L111 51L114.7 53L119.3 52.3L115.7 47.7M111 51L109.3 54.7L113.3 56.3L118.7 55.7L119.3 52.3M73.3 23.3L76.7 27.3M75.3 73L82.3 73.7"/>
<circle class="y" cx="87.3" cy="20.3"/><circle class="s" cx="100.3" cy="22"/><circle class="b" cx="73.3" cy="23.3"/><circle class="b" cx="76.7" cy="27.3"/><circle class="b" cx="61" cy="29"/><circle class="s" cx="56.7" cy="32.7"/><circle class="b" cx="94.3" cy="29.7"/><circle class="b" cx="112" cy="26"/><circle class="r" cx="85" cy="36.7"/><circle class="r" cx="70" cy="37.7"/><circle class="y" cx="50.3" cy="40.3"/><circle class="y" cx="64" cy="46.7"/><circle class="g" cx="80" cy="46.3"/><circle class="y" cx="48.7" cy="49"/><circle class="y" cx="50.7" cy="53.7"/><circle class="s" cx="66.3" cy="56.7"/><circle class="g" cx="83.3" cy="55.7"/><circle class="r" cx="54.3" cy="62.3"/><circle class="r" cx="75.3" cy="63.7"/><circle class="r" cx="62.7" cy="68.7"/><circle class="g" cx="92" cy="65.7"/><circle class="r" cx="75.3" cy="73"/><circle class="r" cx="82.3" cy="73.7"/><circle class="b" cx="97" cy="74.3"/><circle class="s" cx="108.7" cy="70.7"/>
<circle class="g" cx="111.3" cy="39"/><circle class="r" cx="116.7" cy="38.7"/><circle class="y" cx="119.7" cy="41.7"/><circle class="g" cx="111.7" cy="43.3"/><circle class="g" cx="115.7" cy="47.7"/><circle class="g" cx="111" cy="51"/><circle class="r" cx="114.7" cy="53"/><circle class="r" cx="119.3" cy="52.3"/><circle class="y" cx="109.3" cy="54.7"/><circle class="g" cx="113.3" cy="56.3"/><circle class="r" cx="118.7" cy="55.7"/>
</g>

<g id="p53" class="c" transform="translate(659,522)">
<rect class="w" width="161" height="100"/>
<path class="ed" d="M62 46.3L80 50.3M66.7 22L61 25L68 27ZM84.7 20.7L91.3 22L86.3 25.3ZM108.3 27L112 31M114 43.3L120.7 42.7L118.3 48ZM115.3 60.7L111.3 64.7M58.3 67.3L64.7 66.7L67 70.7L61 71.3ZM89.3 74.3L96.3 72.7"/>
<circle class="b" cx="66.7" cy="22"/><circle class="s" cx="61" cy="25"/><circle class="b" cx="68" cy="27"/><circle class="s" cx="84.7" cy="20.7"/><circle class="s" cx="91.3" cy="22"/><circle class="g" cx="86.3" cy="25.3"/><circle class="r" cx="98.3" cy="32.3"/><circle class="g" cx="108.3" cy="27"/><circle class="y" cx="112" cy="31"/><circle class="g" cx="114" cy="43.3"/><circle class="g" cx="120.7" cy="42.7"/><circle class="y" cx="118.3" cy="48"/>
<g transform="translate(54.3,44.7)"><ellipse class="hub" rx="5" ry="4"/><circle class="y" cx="-5" cy="0"/><circle class="y" cx="-2" cy="-3.5"/><circle class="y" cx="3" cy="-3"/><circle class="s" cx="5" cy="0.5"/><circle class="g" cx="2" cy="3.5"/><circle class="r" cx="-3.5" cy="3"/><circle class="b" cx="0" cy="0"/></g>
<circle class="g" cx="62" cy="46.3"/>
<g transform="translate(87,51.3)"><ellipse class="hub" rx="5" ry="4"/><circle class="r" cx="-5" cy="0"/><circle class="r" cx="-2.5" cy="-3.5"/><circle class="s" cx="2.5" cy="-3.5"/><circle class="r" cx="5" cy="0"/><circle class="g" cx="4" cy="2.5"/><circle class="r" cx="1" cy="4"/><circle class="y" cx="-3" cy="3.5"/><circle class="e" cx="0" cy="0"/></g>
<circle class="g" cx="115.3" cy="60.7"/><circle class="b" cx="111.3" cy="64.7"/><circle class="r" cx="58.3" cy="67.3"/><circle class="b" cx="64.7" cy="66.7"/><circle class="r" cx="61" cy="71.3"/><circle class="r" cx="67" cy="70.7"/><circle class="b" cx="89.3" cy="74.3"/><circle class="r" cx="96.3" cy="72.7"/>
</g>

<g id="p54" class="c" transform="translate(835,522)">
<rect class="w" width="161" height="100"/>
<path class="ed" d="M54.3 62L60.7 60.3L67.7 58.7L75 56.3L80.7 52.3L84 46.3L86.7 39.3M85 33.7L91.7 35.7L86.7 39.3ZM65.7 72L72.3 73L79 74L86 74L92.3 71.3L99.3 71.7L105.7 68L108.7 62M102.7 51.7L109.3 47.7L114 55L108.7 62L101.7 58ZM114 55L120.3 52.3M109.3 47.7L112.3 41.3L112.3 35L110.3 29.3M77.7 20.7L85 20.7L93 21.7L99.3 23M49.3 49L55.7 48.7"/>
<circle class="r" cx="77.7" cy="20.7"/><circle class="y" cx="85" cy="20.7"/><circle class="r" cx="93" cy="21.7"/><circle class="r" cx="99.3" cy="23"/><circle class="s" cx="110.3" cy="29.3"/><circle class="b" cx="112.3" cy="35"/><circle class="g" cx="112.3" cy="41.3"/>
<g transform="translate(61,33)"><ellipse class="hub" rx="4.5" ry="3.5"/><circle class="g" cx="4.5" cy="0"/><circle class="g" cx="2.3" cy="3.3"/><circle class="y" cx="-2.3" cy="3.3"/><circle class="y" cx="-4.5" cy="0"/><circle class="s" cx="-2.3" cy="-3.3"/><circle class="g" cx="2.3" cy="-3.3"/></g>
<circle class="b" cx="85" cy="33.7"/><circle class="b" cx="91.7" cy="35.7"/><circle class="g" cx="86.7" cy="39.3"/><circle class="b" cx="84" cy="46.3"/><circle class="g" cx="80.7" cy="52.3"/><circle class="g" cx="75" cy="56.3"/><circle class="r" cx="67.7" cy="58.7"/><circle class="y" cx="60.7" cy="60.3"/><circle class="r" cx="54.3" cy="62"/><circle class="r" cx="49.3" cy="49"/><circle class="r" cx="55.7" cy="48.7"/><circle class="s" cx="102.7" cy="51.7"/><circle class="r" cx="109.3" cy="47.7"/><circle class="y" cx="114" cy="55"/><circle class="y" cx="101.7" cy="58"/><circle class="b" cx="108.7" cy="62"/><circle class="b" cx="120.3" cy="52.3"/><circle class="r" cx="105.7" cy="68"/><circle class="y" cx="99.3" cy="71.7"/><circle class="r" cx="92.3" cy="71.3"/><circle class="y" cx="86" cy="74"/><circle class="r" cx="79" cy="74"/><circle class="g" cx="72.3" cy="73"/><circle class="s" cx="65.7" cy="72"/>
</g>

<g id="p55" class="c" transform="translate(1011,522)">
<rect class="w" width="161" height="100"/>
<path class="ed" d="M86 20.3L92.3 21.7L88.3 26ZM60.7 68.7L62.3 74L69.7 70.3ZM69.7 70.3L85.7 69.7M120.3 54L119.7 59.7"/>
<circle class="g" cx="86" cy="20.3"/><circle class="b" cx="92.3" cy="21.7"/><circle class="r" cx="88.3" cy="26"/>
<g transform="translate(67.3,29.7)"><ellipse class="hub" rx="4.5" ry="3.5"/><circle class="y" cx="0" cy="-3.5"/><circle class="y" cx="4.5" cy="0"/><circle class="s" cx="2.3" cy="3.3"/><circle class="r" cx="-2.3" cy="3.3"/><circle class="b" cx="-4.5" cy="0"/><circle class="y" cx="0" cy="0"/></g>
<g transform="translate(107.3,37)"><ellipse class="hub" rx="4.5" ry="3.5"/><circle class="s" cx="0" cy="-3.5"/><circle class="y" cx="4.5" cy="0"/><circle class="y" cx="2.3" cy="3.3"/><circle class="r" cx="-2.3" cy="3.3"/><circle class="r" cx="-4.5" cy="0"/><circle class="y" cx="0" cy="0"/></g>
<g transform="translate(53.7,49.7)"><ellipse class="hub" rx="4.5" ry="3.5"/><circle class="g" cx="0" cy="-3.5"/><circle class="b" cx="4.5" cy="0"/><circle class="b" cx="2.3" cy="3.3"/><circle class="r" cx="-2.3" cy="3.3"/><circle class="g" cx="-4.5" cy="0"/><circle class="s" cx="0" cy="0"/></g>
<circle class="r" cx="120.3" cy="54"/><circle class="e" cx="119.7" cy="59.7"/>
<use href="#cgy" transform="translate(90.7,68.7) scale(.9)"/>
<circle class="r" cx="60.7" cy="68.7"/><circle class="r" cx="62.3" cy="74"/><circle class="r" cx="69.7" cy="70.3"/>
</g>
</svg>
